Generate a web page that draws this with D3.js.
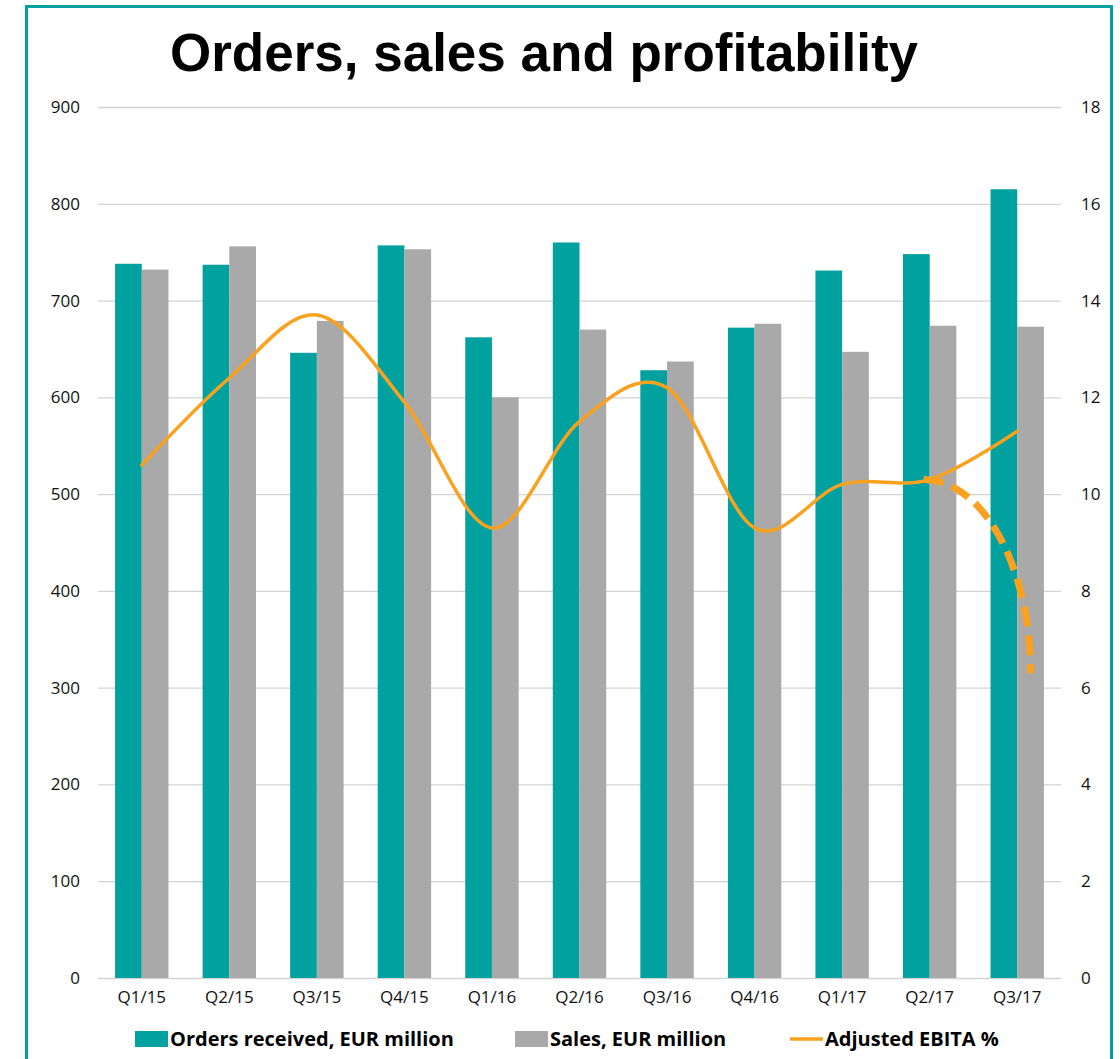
<!DOCTYPE html>
<html>
<head>
<meta charset="utf-8">
<script src="https://cdn.jsdelivr.net/npm/d3@7"></script>
<style>
  body { margin: 0; background: #fff; }
  #wrapper { width: 1120px; height: 1059px; overflow: hidden; }
</style>
</head>
<body>
<div id="wrapper"></div>
<script>
/*
orders, sales and profitability
bars for orders + sales (left axis), smooth line for EBITA % (right axis)
*/

// data
const quarters = ["Q1/15","Q2/15","Q3/15","Q4/15","Q1/16","Q2/16","Q3/16","Q4/16","Q1/17","Q2/17","Q3/17"]
const orders = [738, 737, 646, 757, 662, 760, 628, 672, 731, 748, 815]
const sales = [732, 756, 679, 753, 600, 670, 637, 676, 647, 674, 673]
const ebita = [10.6, 12.4, 13.7, 11.9, 9.3, 11.5, 12.2, 9.3, 10.2, 10.3, 11.3]
// the dashed "drop" from Q2/17 to Q3/17
const dashedQuarters = ["Q2/17", "Q3/17"]
const dashedEbita = [10.3, 6.3]

const leftTicks = [0,100,200,300,400,500,600,700,800,900]
const rightTicks = [0,2,4,6,8,10,12,14,16,18]

const seriesNames = ["Orders received, EUR million", "Sales, EUR million", "Adjusted EBITA %"]

function drawChart() {
/*step 1: dimensions*/
  let dimensions = {
    width: 1120,
    height: 1059,
    margin: {
      top: 107,
      right: 59,
      bottom: 81,
      left: 98,
    },
  }
  dimensions.boundedWidth = dimensions.width - dimensions.margin.left - dimensions.margin.right
  dimensions.boundedHeight = dimensions.height - dimensions.margin.top - dimensions.margin.bottom

  const teal = "#00A19F"
  const grey = "#A9A9A9"
  const orange = "#FAA21F"
  const labelFont = "'Liberation Sans Narrow', 'Open Sans', sans-serif"

/*step 2: canvas*/
  const wrapper = d3.select("#wrapper")
    .append("svg")
    .attr("width", dimensions.width)
    .attr("height", dimensions.height)

  // teal frame round the whole thing (bottom edge runs off the page)
  wrapper.append("rect")
    .attr("x", 26.5)
    .attr("y", 6.5)
    .attr("width", 1085)
    .attr("height", 1100)
    .attr("fill", "none")
    .attr("stroke", teal)
    .attr("stroke-width", 3)

  wrapper.append("text")
    .attr("x", 544)
    .attr("y", 71)
    .attr("text-anchor", "middle")
    .style("font-family", "'Liberation Sans', Arial, sans-serif")
    .style("font-weight", "bold")
    .style("font-size", "53px")
    .text("Orders, sales and profitability")

  const bounds = wrapper.append("g")
    .attr("transform", `translate(${dimensions.margin.left}, ${dimensions.margin.top})`)

/*step 3: scales*/
  const xScale = d3.scaleBand()
    .domain(quarters)
    .range([0, dimensions.boundedWidth])
    .paddingInner(0.39)
    .paddingOuter(0.195)

  const subScale = d3.scaleBand()
    .domain(["orders", "sales"])
    .range([0, xScale.bandwidth()])

  const yLeft = d3.scaleLinear()
    .domain([0, 900])
    .range([dimensions.boundedHeight, 0])

  const yRight = d3.scaleLinear()
    .domain([0, 18])
    .range([dimensions.boundedHeight, 0])

/*step 4: gridlines + axes*/
  bounds.append("g")
    .selectAll("line")
    .data(leftTicks)
    .join("line")
      .attr("x1", 0)
      .attr("x2", dimensions.boundedWidth)
      .attr("y1", d => yLeft(d) + 0.5)
      .attr("y2", d => yLeft(d) + 0.5)
      .attr("stroke", "#D3D3D3")
      .attr("stroke-width", 1.3)

  const leftAxis = bounds.append("g")
    .call(d3.axisLeft(yLeft).tickValues(leftTicks).tickSize(0).tickPadding(18))
  leftAxis.select(".domain").remove()

  const rightAxis = bounds.append("g")
    .attr("transform", `translate(${dimensions.boundedWidth}, 0)`)
    .call(d3.axisRight(yRight).tickValues(rightTicks).tickSize(0).tickPadding(20))
  rightAxis.select(".domain").remove()

  const xAxis = bounds.append("g")
    .attr("transform", `translate(0, ${dimensions.boundedHeight})`)
    .call(d3.axisBottom(xScale).tickSize(0).tickPadding(13))
  xAxis.select(".domain").remove()

  bounds.selectAll(".tick text")
    .style("font-family", labelFont)
    .style("font-size", "17px")
    .attr("fill", "#111")

/*step 5: bars*/
  const groups = bounds.append("g")
    .selectAll("g")
    .data(quarters)
    .join("g")
      .attr("transform", d => `translate(${xScale(d)}, 0)`)

  groups.append("rect")
    .attr("x", subScale("orders"))
    .attr("y", (d, i) => yLeft(orders[i]))
    .attr("width", subScale.bandwidth())
    .attr("height", (d, i) => dimensions.boundedHeight - yLeft(orders[i]))
    .attr("fill", teal)

  groups.append("rect")
    .attr("x", subScale("sales"))
    .attr("y", (d, i) => yLeft(sales[i]))
    .attr("width", subScale.bandwidth())
    .attr("height", (d, i) => dimensions.boundedHeight - yLeft(sales[i]))
    .attr("fill", grey)

/*step 6: EBITA line (smoothed, like excel)*/
  const center = q => xScale(q) + xScale.bandwidth() / 2

  const lineGenerator = d3.line()
    .x((d, i) => center(quarters[i]))
    .y(d => yRight(d))
    .curve(d3.curveCardinal.tension(0))

  bounds.append("path")
    .datum(ebita)
    .attr("d", lineGenerator)
    .attr("fill", "none")
    .attr("stroke", orange)
    .attr("stroke-width", 3.5)
    .attr("stroke-linecap", "round")

  // dashed drop: a quarter-ellipse from the Q2/17 point down to the grey Q3/17 bar
  const x0 = center(dashedQuarters[0]) - 6
  const y0 = yRight(dashedEbita[0])
  const x1 = center(dashedQuarters[1]) + subScale.bandwidth() / 2
  const y1 = yRight(dashedEbita[1])
  const k = 0.5523
  const dropPath = d3.path()
  dropPath.moveTo(x0, y0)
  dropPath.bezierCurveTo(x0 + k * (x1 - x0), y0, x1, y1 - k * (y1 - y0), x1, y1)

  bounds.append("path")
    .attr("d", dropPath.toString())
    .attr("fill", "none")
    .attr("stroke", orange)
    .attr("stroke-width", 7)
    .attr("stroke-dasharray", "20 9")

/*step 7: legend*/
  const legend = wrapper.append("g")
    .attr("transform", "translate(0, 1039)")

  const legendItems = [
    { name: seriesNames[0], x: 135, type: "box", color: teal },
    { name: seriesNames[1], x: 515, type: "box", color: grey },
    { name: seriesNames[2], x: 790, type: "line", color: orange },
  ]

  legendItems.forEach(item => {
    if (item.type == "box") {
      legend.append("rect")
        .attr("x", item.x)
        .attr("y", -8)
        .attr("width", 33)
        .attr("height", 16)
        .attr("fill", item.color)
    } else {
      legend.append("line")
        .attr("x1", item.x)
        .attr("x2", item.x + 33)
        .attr("stroke", item.color)
        .attr("stroke-width", 3.5)
    }
    legend.append("text")
      .attr("x", item.x + 35)
      .attr("y", 7)
      .style("font-family", labelFont)
      .style("font-weight", "bold")
      .style("font-size", "20px")
      .text(item.name)
  })
}
drawChart()
</script>
</body>
</html>
